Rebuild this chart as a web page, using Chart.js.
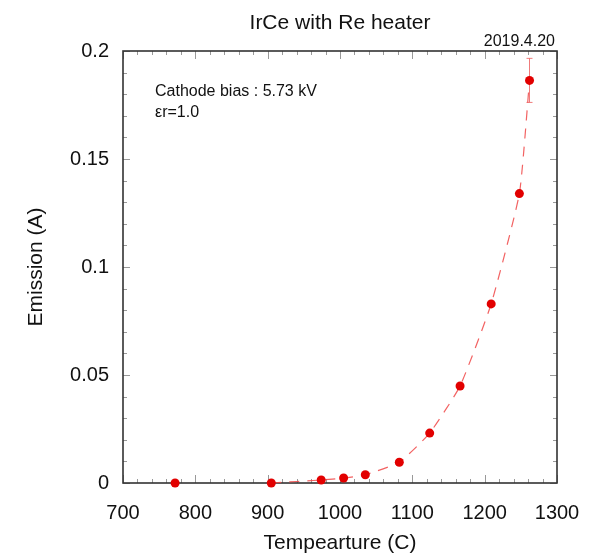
<!DOCTYPE html>
<html>
<head>
<meta charset="utf-8">
<title>IrCe with Re heater</title>
<script src="https://cdn.jsdelivr.net/npm/chart.js@4"></script>
<style>
  html, body { margin: 0; padding: 0; background: #fff; }
  canvas { display: block; }
</style>
</head>
<body>
<canvas id="emChart" width="600" height="557"></canvas>
<script>
// measured emission vs. heater temperature
const temps    = [772, 905, 974, 1005, 1035, 1082, 1124, 1166, 1209, 1248, 1262];
const emission = [0, 0, 0.0014, 0.0023, 0.0038, 0.0096, 0.0231, 0.0449, 0.0829, 0.134, 0.1864];
const errors   = [0, 0, 0, 0, 0, 0, 0, 0, 0, 0, 0.0102];

const xTicks = [700, 800, 900, 1000, 1100, 1200, 1300];
const yTicks = [0, 0.05, 0.1, 0.15, 0.2];

const FONT = "'Liberation Sans', Arial, Helvetica, sans-serif";
const RED = 'rgb(226,0,0)';

const points = temps.map((t, i) => ({ x: t, y: emission[i] }));
// dashed trend starts from the 905 C point
const trend = points.slice(1);

// frame with inward ticks on all four sides
const framePlugin = {
  id: 'frame',
  beforeDatasetsDraw(chart) {
    const { ctx, chartArea: a, scales: { x, y } } = chart;
    ctx.save();
    ctx.strokeStyle = '#999';
    ctx.lineWidth = 1;
    ctx.beginPath();
    for (let v = 700; v <= 1300; v += 20) {
      const px = Math.round(x.getPixelForValue(v)) + 0.5;
      const len = v % 100 === 0 ? 8 : 4;
      ctx.moveTo(px, a.bottom); ctx.lineTo(px, a.bottom - len);
      ctx.moveTo(px, a.top); ctx.lineTo(px, a.top + len);
    }
    for (let k = 0; k <= 20; k++) {
      const py = Math.round(y.getPixelForValue(k * 0.01)) + 0.5;
      const len = k % 5 === 0 ? 7 : 4;
      ctx.moveTo(a.left, py); ctx.lineTo(a.left + len, py);
      ctx.moveTo(a.right, py); ctx.lineTo(a.right - len, py);
    }
    ctx.stroke();

    ctx.strokeStyle = '#333';
    ctx.lineWidth = 1.6;
    ctx.strokeRect(a.left, a.top, a.right - a.left, a.bottom - a.top);

    // error bars sit behind the markers
    ctx.strokeStyle = 'rgba(235,90,90,0.8)';
    ctx.lineWidth = 1;
    ctx.beginPath();
    errors.forEach((e, i) => {
      if (!e) return;
      const px = x.getPixelForValue(temps[i]);
      const top = y.getPixelForValue(emission[i] + e);
      const bot = y.getPixelForValue(emission[i] - e);
      ctx.moveTo(px, top); ctx.lineTo(px, bot);
      ctx.moveTo(px - 3, top); ctx.lineTo(px + 3, top);
      ctx.moveTo(px - 3, bot); ctx.lineTo(px + 3, bot);
    });
    ctx.stroke();
    ctx.restore();
  },
  afterDraw(chart) {
    const { ctx, chartArea: a } = chart;
    ctx.save();
    ctx.fillStyle = '#111';
    ctx.textBaseline = 'alphabetic';

    ctx.font = '21px ' + FONT;
    ctx.textAlign = 'center';
    ctx.fillText('IrCe with Re heater', (a.left + a.right) / 2, 29);

    ctx.font = '16px ' + FONT;
    ctx.textAlign = 'right';
    ctx.fillText('2019.4.20', a.right - 2, 46);

    ctx.textAlign = 'left';
    ctx.fillText('Cathode bias : 5.73 kV', 155, 96);
    ctx.fillText('\u03b5r=1.0', 155, 117);
    ctx.restore();
  }
};

new Chart(document.getElementById('emChart'), {
  type: 'scatter',
  data: {
    datasets: [
      {
        label: 'Emission',
        data: points,
        showLine: false,
        pointRadius: 4.5,
        pointHoverRadius: 4.5,
        pointBackgroundColor: RED,
        pointBorderColor: RED,
        pointBorderWidth: 0,
        clip: false
      },
      {
        label: 'trend',
        data: trend,
        showLine: true,
        pointRadius: 0,
        borderColor: 'rgba(240,70,70,0.85)',
        borderWidth: 1.2,
        borderDash: [10, 8],
        tension: 0.15,
        clip: false
      }
    ]
  },
  options: {
    responsive: false,
    animation: false,
    events: [],
    layout: { padding: { top: 51, right: 43, left: 0, bottom: 0 } },
    plugins: {
      legend: { display: false },
      tooltip: { enabled: false }
    },
    scales: {
      x: {
        type: 'linear',
        min: 700,
        max: 1300,
        afterBuildTicks: s => { s.ticks = xTicks.map(v => ({ value: v })); },
        afterFit: s => { s.height = 74; },
        grid: { display: false, drawTicks: false },
        border: { display: false },
        ticks: {
          padding: 18,
          color: '#111',
          font: { family: FONT, size: 20 },
          maxRotation: 0,
          callback: v => String(v)
        },
        title: {
          display: true,
          text: 'Tempearture (C)',
          color: '#111',
          font: { family: FONT, size: 21 },
          padding: { top: 0, bottom: 1 }
        }
      },
      y: {
        type: 'linear',
        min: 0,
        max: 0.2,
        afterBuildTicks: s => { s.ticks = yTicks.map(v => ({ value: v })); },
        afterFit: s => { s.width = 123; },
        grid: { display: false, drawTicks: false },
        border: { display: false },
        ticks: {
          padding: 14,
          color: '#111',
          font: { family: FONT, size: 20 },
          callback: v => String(+v.toFixed(2))
        },
        title: {
          display: true,
          text: 'Emission (A)',
          color: '#111',
          font: { family: FONT, size: 21 },
          padding: { top: 24, bottom: 0 }
        }
      }
    }
  },
  plugins: [framePlugin]
});
</script>
</body>
</html>
